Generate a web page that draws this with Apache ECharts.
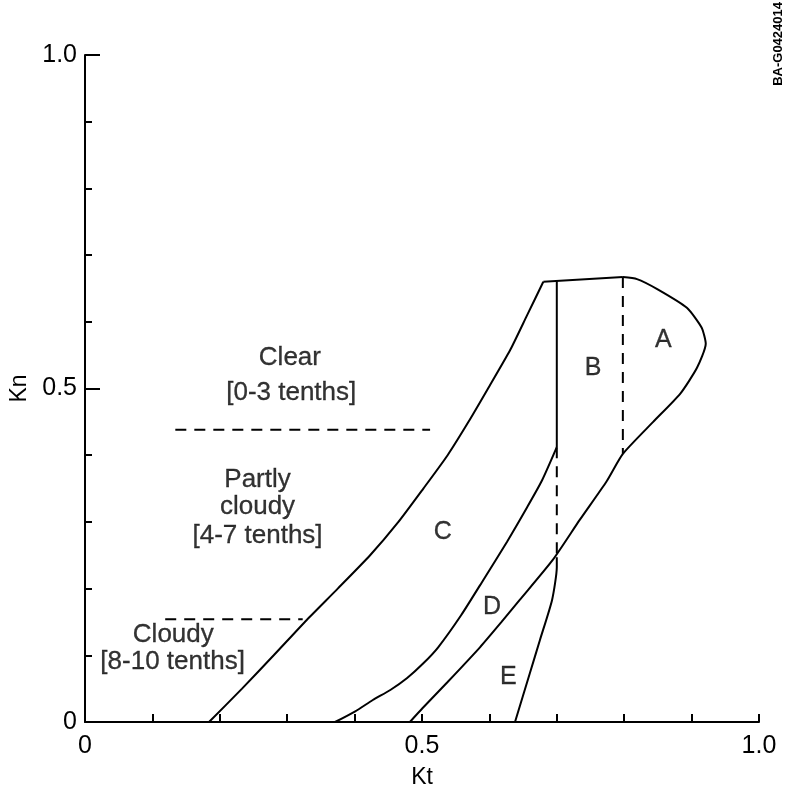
<!DOCTYPE html>
<html>
<head>
<meta charset="utf-8">
<script src="https://cdn.jsdelivr.net/npm/echarts@6/dist/echarts.min.js"></script>
<style>html,body{margin:0;padding:0;background:#fff}#c{width:785px;height:793px}</style>
</head>
<body>
<div id="c"></div>
<script>
// Boundary curves (Kt, Kn)
var curveCLeft = [[0.184,0],[0.233,0.05],[0.280,0.10],[0.329,0.153],[0.375,0.20],[0.423,0.25],[0.465,0.30],[0.502,0.35],[0.538,0.40],[0.569,0.45],[0.598,0.50],[0.631,0.558],[0.656,0.61],[0.680,0.660]];
var topEdge = [[0.680,0.660],[0.798,0.667]];
var curveA = [[0.798,0.667],[0.819,0.664],[0.849,0.649],[0.893,0.621],[0.915,0.591],[0.921,0.567],[0.908,0.531],[0.883,0.492],[0.843,0.45],[0.798,0.402],[0.774,0.361],[0.734,0.303],[0.694,0.243],[0.645,0.183],[0.618,0.15],[0.586,0.112],[0.538,0.06],[0.501,0.021],[0.482,0]];
var curveCD = [[0.700,0.412],[0.678,0.362],[0.656,0.322],[0.626,0.27],[0.591,0.213],[0.558,0.16],[0.524,0.112],[0.502,0.088],[0.478,0.066],[0.453,0.048],[0.427,0.033],[0.401,0.016],[0.371,0]];
var curveE = [[0.638,0],[0.660,0.073],[0.675,0.123],[0.693,0.183],[0.700,0.232],[0.700,0.247]];
var solidBC = [[0.700,0.661],[0.700,0.412]];
var dashedDE = [[0.700,0.412],[0.700,0.247]];
var dashedAB = [[0.798,0.667],[0.798,0.402]];
var dashedClear = [[0.134,0.438],[0.512,0.438]];
var dashedCloudy = [[0.119,0.154],[0.323,0.154]];
// Text labels
var regionLabels = [['A',0.858,0.573],['B',0.754,0.531],['C',0.531,0.285],['D',0.604,0.172],['E',0.628,0.068]];
var skyLabels = [['Clear',0.304,0.546],['[0-3 tenths]',0.306,0.493],['Partly',0.256,0.363],['cloudy',0.256,0.322],['[4-7 tenths]',0.256,0.279],['Cloudy',0.131,0.130],['[8-10 tenths]',0.130,0.090]];
var xTickLabels = {0:'0',5:'0.5',10:'1.0'};
var yTickLabels = {0:'0',5:'0.5',10:'1.0'};

var FONT = 'Liberation Sans';
function lineSeries(data, dashed, smooth){
  return {type:'line', data:data, xAxisIndex:0, yAxisIndex:0, symbol:'none', smooth:smooth?0.2:false,
    lineStyle:{color:'#000', width:2, type: dashed?[11,8]:'solid'}, silent:true, z:3};
}
function textSeries(list, size){
  return {type:'scatter', xAxisIndex:0, yAxisIndex:0, symbolSize:0, silent:true,
    data:list.map(function(d){return {value:[d[1],d[2]], name:d[0]};}),
    label:{show:true, position:'inside', formatter:'{b}', color:'#000', textBorderColor:'#000', textBorderWidth:0.3, fontFamily:FONT, fontSize:size}};
}
function fmt(map){ return function(v){ var k=Math.round(v*10); return (Math.abs(v*10-k)<1e-6 && map[k]!==undefined)?map[k]:''; }; }

var chart = echarts.init(document.getElementById('c'));
chart.setOption({
  backgroundColor:'#fff',
  animation:false,
  grid:{left:85, right:26, top:55, bottom:71, outerBoundsMode:'none'},
  xAxis:[{type:'value', min:0, max:1, interval:0.1,
    name:'Kt', nameLocation:'middle', nameGap:44, nameTextStyle:{color:'#000', fontFamily:FONT, fontSize:23},
    axisLine:{show:true, lineStyle:{color:'#000', width:2}},
    axisTick:{show:true, inside:true, length:8, lineStyle:{color:'#000', width:2}},
    axisLabel:{formatter:fmt(xTickLabels), color:'#000', fontFamily:FONT, fontSize:25, margin:12, showMinLabel:true, showMaxLabel:true},
    splitLine:{show:false}}],
  yAxis:[{type:'value', min:0, max:1, interval:0.1,
    name:'Kn', nameLocation:'middle', nameGap:53, nameRotate:90, nameTextStyle:{color:'#000', fontFamily:FONT, fontSize:23},
    axisLine:{show:true, lineStyle:{color:'#000', width:2}},
    axisTick:{show:true, inside:true, length:7, lineStyle:{color:'#000', width:2}},
    axisLabel:{formatter:fmt(yTickLabels), color:'#000', fontFamily:FONT, fontSize:25, margin:8, showMinLabel:true, showMaxLabel:true},
    splitLine:{show:false}},
   {type:'value', min:0, max:1, interval:0.5, position:'left',
    axisLine:{show:false}, axisLabel:{show:false}, splitLine:{show:false},
    axisTick:{show:true, inside:true, length:15, lineStyle:{color:'#000', width:2}}}],
  graphic:[{type:'text', left:772, top:2, rotation:Math.PI/2,
    style:{text:'BA-G0424014', fill:'#000', font:'bold 13px "Liberation Sans"'}}],
  series:[
    lineSeries(curveCLeft,false,true),
    lineSeries(topEdge,false,false),
    lineSeries(curveA,false,true),
    lineSeries(curveCD,false,true),
    lineSeries(curveE,false,true),
    lineSeries(solidBC,false,false),
    lineSeries(dashedDE,true,false),
    lineSeries(dashedAB,true,false),
    lineSeries(dashedClear,true,false),
    lineSeries(dashedCloudy,true,false),
    textSeries(regionLabels,25),
    textSeries(skyLabels,26)
  ]
});
</script>
</body>
</html>
